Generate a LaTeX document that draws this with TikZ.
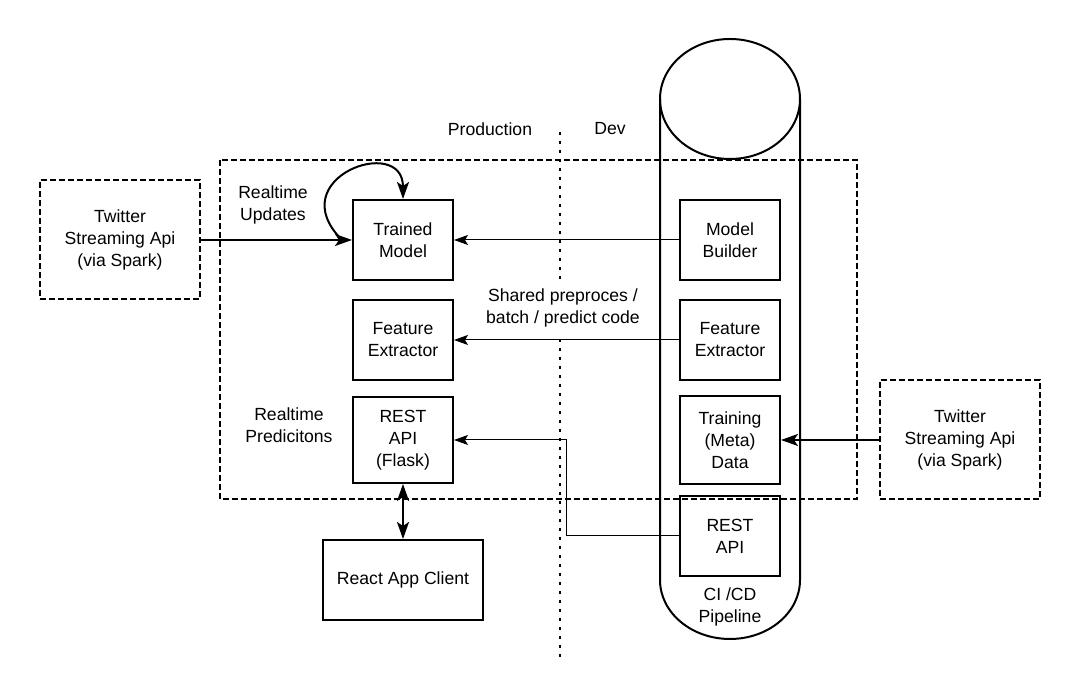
\documentclass[tikz,border=0pt]{standalone}
\usepackage{fontspec}
\setmainfont{Liberation Sans}
\usetikzlibrary{arrows.meta,positioning}

\begin{document}
\begin{tikzpicture}[x=1pt,y=1pt,>={Stealth[length=14pt,width=10pt,inset=3pt]},font=\fontsize{17.6}{22}\selectfont,
  box/.style={draw,line width=2pt,minimum width=100pt,minimum height=80pt,align=center,inner sep=0pt},
  feed/.style={draw,line width=2pt,dash pattern=on 6pt off 3pt,minimum width=160pt,minimum height=119pt,align=center},
  txt/.style={align=center,inner sep=0pt},
  link/.style={->,line width=1pt},
  heavy/.style={->,line width=2pt,>={Stealth[length=17pt,width=12pt,inset=4pt]}}]

	\useasboundingbox (0,0) rectangle (1080,700);

	% The pipeline
	\draw[line width=2pt] (660,601) -- (660,120) arc[start angle=180, end angle=360, x radius=70, y radius=59] -- (800,601);
	\draw[line width=2pt] (730,601) ellipse [x radius=70, y radius=60];
	\node [txt] at (730,93) (ci) {CI /CD\\Pipeline};

	% Production / Dev split
	\draw[line width=2pt,dash pattern=on 3pt off 6pt] (560,568) -- (560,40);
	\node [txt] at (490,571) (prod) {Production};
	\node [txt] at (610,571) (dev) {Dev};
	\draw[line width=2pt,dash pattern=on 6pt off 3pt] (220,540) rectangle (857,201);

	% Production side
	\node [box] at (403,460) (tm) {Trained\\Model};
	\node [box] at (403,360) (fe) {Feature\\Extractor};
	\node [box,minimum height=86pt] at (403,260) (rest) {REST\\API\\(Flask)};
	\node [box,minimum width=160pt] at (403,120) (react) {React App Client};
	\node [txt] at (273,495) (upd) {Realtime\\Updates};
	\node [txt] at (289,275) (pred) {Realtime\\Predicitons};

	% Dev side
	\node [box] at (730,460) (mb) {Model\\Builder};
	\node [box] at (730,360) (fe2) {Feature\\Extractor};
	\node [box,minimum height=88pt] at (730,260) (td) {Training\\(Meta)\\Data};
	\node [box] at (730,164) (api2) {REST\\API};

	% Streams
	\node [feed] at (120,460) (twl) {Twitter\\Streaming Api\\(via Spark)};
	\node [feed] at (960,260) (twr) {Twitter\\Streaming Api\\(via Spark)};

	\node [txt,fill=white,inner xsep=2pt,inner ysep=9pt] at (563,392) (shared) {Shared preproces /\\batch / predict code};
	\coordinate (elbow) at (566,260);

	% Graph edges
	\draw[heavy] (twl) -- (tm);
	\draw[heavy] ([xshift=-10pt]tm.west) .. controls (280,522) and (403,566) .. (tm.north);
	\draw[link] (mb) -- (tm);
	\draw[link] (fe2) -- (fe);
	\draw[link] (api2.west) -| (elbow) -- (rest.east);
	\draw[heavy] (twr) -- (td);
	\draw[heavy,<->] (rest) -- (react);

\end{tikzpicture}
\end{document}
